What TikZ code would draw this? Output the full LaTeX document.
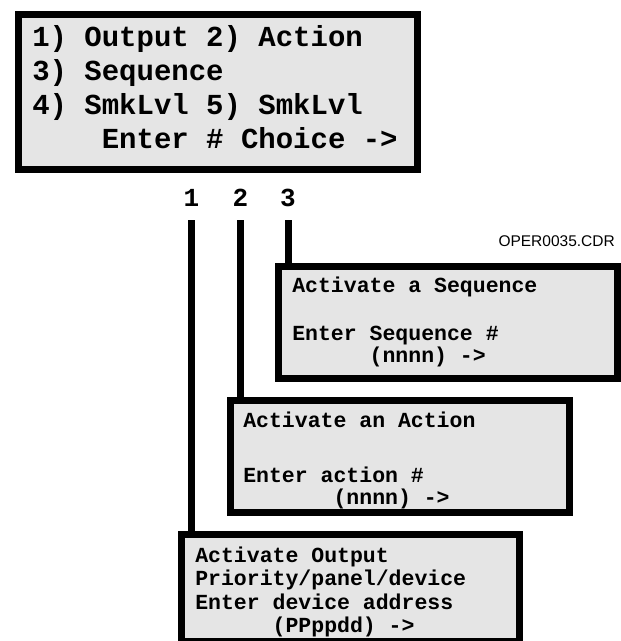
\documentclass[tikz,border=0pt]{standalone}
\usepackage{fontspec}
\setmonofont{Liberation Mono}
\setsansfont{Liberation Sans}
\usetikzlibrary{positioning}
\definecolor{lcdgray}{RGB}{229,229,229}
% fixed pitch font for the screens
\newcommand{\lcdfont}[2]{\ttfamily\bfseries\fontsize{#1}{#2}\selectfont
  \spaceskip=0.6em\relax\xspaceskip=0.6em\relax}

\begin{document}
\begin{tikzpicture}
    [x=1pt,y=1pt,
     screen/.style={draw=black,fill=lcdgray,line width=6.5pt,anchor=north west,
       align=flush left,inner ysep=0pt,inner xsep=14pt,font=\lcdfont{21.5}{22}},
     choice/.style={font=\lcdfont{26}{26},anchor=base,inner sep=0pt},
     wire/.style={line width=7pt,shorten <=14pt}]
    \useasboundingbox (0,0) rectangle (621,-641);
    % main menu screen
    \node[screen,inner xsep=14pt,text width=371pt,minimum height=155pt,
      font=\lcdfont{29}{34}] (menu) at (15,-11)
      {1) Output 2) Action\\
       3) Sequence\\
       4) SmkLvl 5) SmkLvl\\
       \hspace*{2.4em}Enter \# Choice ->\rule[-10pt]{0pt}{10pt}};
    % choice numbers
    \node[choice] (c1) at (191.5,-206) {1};
    \node[choice] (c2) at (240.5,-206) {2};
    \node[choice] (c3) at (288,-206) {3};
    \node[font=\sffamily\fontsize{15.5}{18}\selectfont,anchor=base east,inner sep=0pt]
      (fname) at (615,-246) {OPER0035.CDR};
    % sub screens
    \node[screen,text width=311pt,minimum height=112pt] (seq) at (275,-263)
      {Activate a Sequence\\[26pt]
       Enter Sequence \#\\
       \hspace*{3.6em}(nnnn) ->};
    \node[screen,inner xsep=13pt,text width=313pt,minimum height=112pt] (act) at (227,-397)
      {\rule{0pt}{24pt}Activate an Action\\[33pt]
       Enter action \#\\
       \hspace*{4.2em}(nnnn) ->};
    \node[screen,text width=310pt,minimum height=106.5pt] (out) at (178,-531)
      {\rule{0pt}{24pt}Activate Output\\[1.5pt]
       Priority/panel/device\\[1.5pt]
       Enter device address\\[1.5pt]
       \hspace*{3.6em}(PPppdd) ->};
    % connectors
    \draw[wire] (c1.south) -- (c1.south |- out.north);
    \draw[wire] (c2.south) -- (c2.south |- act.north);
    \draw[wire] (c3.south) -- (c3.south |- seq.north);
\end{tikzpicture}
\end{document}
